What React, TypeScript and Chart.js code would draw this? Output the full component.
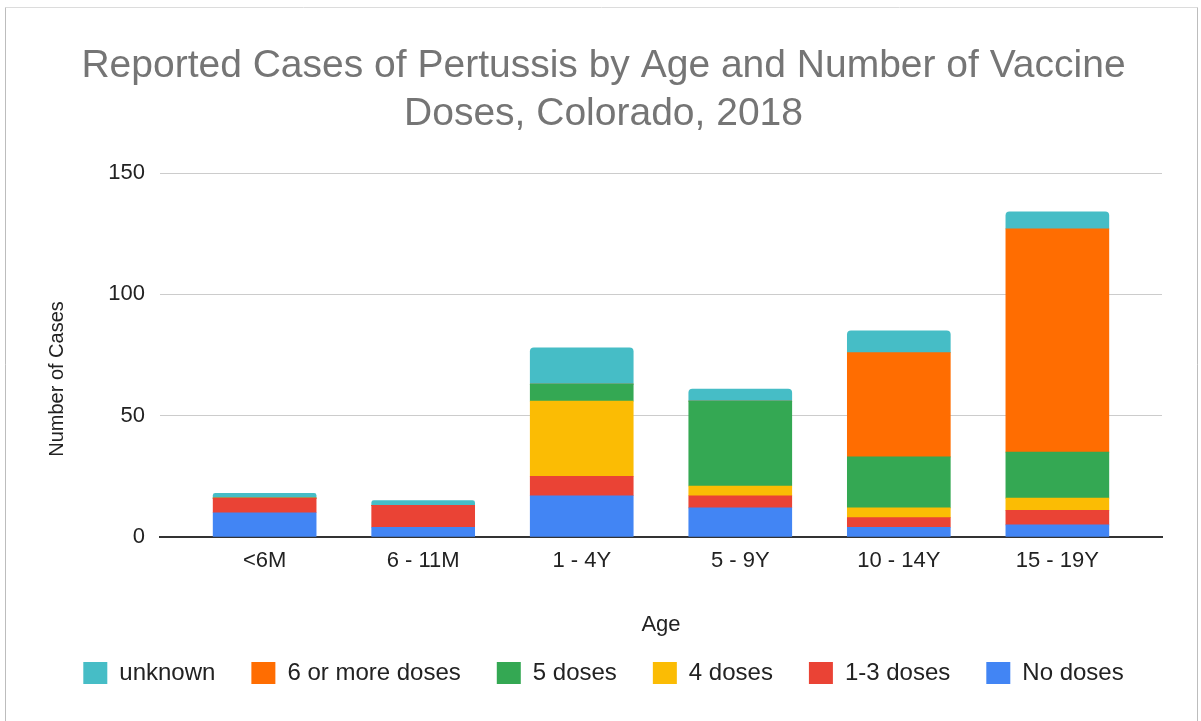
import React, { useEffect, useRef } from "react";
import { Chart, registerables } from "chart.js";

Chart.register(...registerables);

const categories = ["<6M", "6 - 11M", "1 - 4Y", "5 - 9Y", "10 - 14Y", "15 - 19Y"];
const noDoses = [10, 4, 17, 12, 4, 5];
const doses1to3 = [6, 9, 8, 5, 4, 6];
const doses4 = [0, 0, 31, 4, 4, 5];
const doses5 = [0, 0, 7, 35, 21, 19];
const doses6plus = [0, 0, 0, 0, 43, 92];
const unknown = [2, 2, 15, 5, 9, 7];
const yTicks = [0, 50, 100, 150];
const yTitle = "Number of Cases";

const FONT = "'Liberation Sans', Arial, sans-serif";

const toPoints = (arr: number[]) => arr.map((v, i) => ({ x: i, y: v }));

const frame = {
  id: "frame",
  beforeDraw(chart: any) {
    const { ctx, width, height } = chart;
    ctx.save();
    ctx.fillStyle = "#ffffff";
    ctx.fillRect(0, 0, width, height);
    ctx.lineWidth = 1;
    ctx.strokeStyle = "#dcdcdc";
    ctx.beginPath();
    ctx.moveTo(5.5, 7.5);
    ctx.lineTo(1197.5, 7.5);
    ctx.stroke();
    ctx.strokeStyle = "#bdbdbd";
    ctx.beginPath();
    ctx.moveTo(5.5, 7.5);
    ctx.lineTo(5.5, height);
    ctx.moveTo(1197.5, 7.5);
    ctx.lineTo(1197.5, height);
    ctx.stroke();
    ctx.restore();
  },
  afterDraw(chart: any) {
    const { ctx } = chart;
    ctx.save();
    ctx.translate(57, 379);
    ctx.rotate(-Math.PI / 2);
    ctx.fillStyle = "#222222";
    ctx.font = `20px ${FONT}`;
    ctx.textAlign = "center";
    ctx.textBaseline = "middle";
    ctx.fillText(yTitle, 0, 0);
    ctx.restore();
  },
};

export default function App() {
  const ref = useRef<HTMLCanvasElement>(null);
  useEffect(() => {
    document.body.style.margin = "0";
    document.body.style.overflow = "hidden";
    const mk = (label: string, data: number[], color: string, top = false) => ({
      label,
      data: toPoints(data),
      backgroundColor: color,
      borderWidth: 0,
      borderRadius: top ? { topLeft: 4, topRight: 4, bottomLeft: 0, bottomRight: 0 } : 0,
      borderSkipped: "start",
      barThickness: 103,
    });
    const chart = new Chart(ref.current as HTMLCanvasElement, {
      type: "bar",
      data: {
        datasets: [
          mk("No doses", noDoses, "#4285F4"),
          mk("1-3 doses", doses1to3, "#EA4335"),
          mk("4 doses", doses4, "#FBBC04"),
          mk("5 doses", doses5, "#34A853"),
          mk("6 or more doses", doses6plus, "#FF6D01"),
          mk("unknown", unknown, "#46BDC6", true),
        ] as any,
      },
      options: {
        animation: false,
        responsive: false,
        maintainAspectRatio: false,
        layout: { padding: { left: 45, right: 39, top: 0, bottom: 26 } },
        plugins: {
          title: {
            display: true,
            text: ["Reported Cases of Pertussis by Age and Number of Vaccine", "Doses, Colorado, 2018"],
            color: "#757575",
            font: { family: FONT, size: 39, weight: "normal", lineHeight: 48 / 39 },
            padding: { top: 42, bottom: 35 },
          },
          legend: {
            position: "bottom",
            reverse: true,
            labels: {
              color: "#222222",
              font: { family: FONT, size: 24 },
              boxWidth: 24,
              boxHeight: 22,
              padding: 36,
            },
          },
          tooltip: { enabled: false },
        },
        scales: {
          x: {
            type: "linear",
            stacked: true,
            offset: false,
            min: -0.66,
            max: 5.66,
            afterBuildTicks: (axis: any) => {
              axis.ticks = categories.map((_, i) => ({ value: i }));
            },
            afterFit: (axis: any) => {
              axis.height = 88;
            },
            ticks: {
              callback: (v: any) => categories[v] ?? "",
              color: "#222222",
              font: { family: FONT, size: 22 },
              padding: 11,
              maxRotation: 0,
              autoSkip: false,
            },
            grid: { display: false, drawTicks: false, offset: false },
            border: { display: true, color: "#333333", width: 2 },
            title: {
              display: true,
              text: "Age",
              color: "#222222",
              font: { family: FONT, size: 22, lineHeight: 1 },
              padding: { top: 0, bottom: -11 },
            },
          },
          y: {
            stacked: true,
            min: 0,
            max: 150,
            afterBuildTicks: (axis: any) => {
              axis.ticks = yTicks.map((v) => ({ value: v }));
            },
            afterFit: (axis: any) => {
              axis.width = 115;
            },
            ticks: {
              color: "#222222",
              font: { family: FONT, size: 22 },
              padding: 15,
            },
            grid: { color: "#cccccc", lineWidth: 1, drawTicks: false },
            border: { display: false },
            title: { display: false },
          },
        },
      } as any,
      plugins: [frame],
    });
    return () => chart.destroy();
  }, []);
  return <canvas ref={ref} width={1201} height={721} style={{ display: "block" }} />;
}
